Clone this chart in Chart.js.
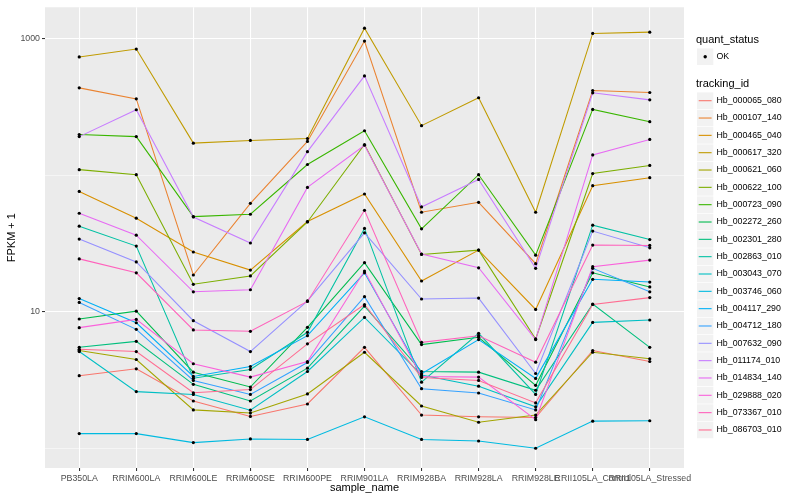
<!DOCTYPE html>
<html>
<head>
<meta charset="utf-8">
<script src="https://cdn.jsdelivr.net/npm/chart.js@4.4.1/dist/chart.umd.min.js"></script>
<style>
  html, body { margin: 0; padding: 0; background: #ffffff; }
  #wrap { width: 800px; height: 500px; }
</style>
</head>
<body>
<div id="wrap"><canvas id="chart" width="800" height="500"></canvas></div>
<script>
// samples (x axis)
const categories = ['PB350LA', 'RRIM600LA', 'RRIM600LE', 'RRIM600SE', 'RRIM600PE', 'RRIM901LA',
    'RRIM928BA', 'RRIM928LA', 'RRIM928LE', 'RRII105LA_Control', 'RRII105LA_Stressed'];

// FPKM + 1, one array per tracking_id
const hb_000065_080 = [3.40, 3.82, 2.22, 1.71, 2.11, 5.49, 1.75, 1.70, 1.68, 5.20, 4.32];
const hb_000107_140 = [437, 363, 18.6, 62.3, 177, 962, 53.6, 63.4, 22.5, 418, 404];
const hb_000465_040 = [76.2, 48.5, 27.4, 20.2, 45.8, 72.9, 16.8, 28.3, 10.4, 83.9, 96.0];
const hb_000617_320 = [736, 841, 172, 180, 186, 1196, 231, 370, 53.6, 1095, 1119];
const hb_000621_060 = [5.20, 4.47, 1.91, 1.81, 2.50, 5.05, 2.04, 1.55, 1.75, 5.05, 4.52];
const hb_000622_100 = [110, 101, 15.9, 18.3, 45.5, 168, 26.3, 28.3, 6.32, 103, 118];
const hb_000723_090 = [199, 192, 49.8, 51.8, 120, 212, 40.5, 101, 26.0, 304, 247];
const hb_002272_260 = [8.85, 10.1, 3.61, 2.81, 7.69, 22.9, 5.75, 6.50, 2.89, 19.3, 15.2];
const hb_002301_280 = [5.49, 6.07, 2.94, 2.22, 3.86, 11.0, 3.65, 3.61, 2.66, 11.4, 5.49];
const hb_002863_010 = [42.4, 30.3, 3.26, 3.78, 7.07, 40.8, 3.05, 6.95, 2.48, 43.1, 33.8];
const hb_003043_070 = [5.11, 2.60, 2.48, 1.90, 3.65, 9.09, 3.44, 2.85, 2.01, 8.36, 8.70];
const hb_003746_060 = [1.28, 1.28, 1.10, 1.17, 1.16, 1.70, 1.16, 1.13, 1.00, 1.58, 1.59];
const hb_004117_290 = [12.5, 8.31, 3.36, 3.97, 6.68, 19.3, 3.51, 6.25, 3.25, 17.3, 16.5];
const hb_004712_180 = [11.7, 7.43, 3.14, 2.48, 4.25, 12.9, 2.73, 2.54, 1.91, 20.8, 14.0];
const hb_007632_090 = [34.1, 23.2, 8.60, 5.11, 12.0, 37.9, 12.4, 12.6, 3.53, 39.0, 29.4];
const hb_011174_010 = [192, 302, 49.5, 31.9, 149, 535, 58.6, 93.3, 20.8, 402, 357];
const hb_014834_140 = [52.7, 36.4, 14.0, 14.5, 81.5, 166, 26.5, 21.0, 6.25, 141, 183];
const hb_029888_020 = [7.65, 8.79, 4.16, 3.32, 4.32, 19.9, 3.36, 3.32, 1.62, 21.4, 23.9];
const hb_073367_010 = [24.4, 19.3, 7.36, 7.19, 11.9, 55.4, 5.97, 6.68, 4.27, 30.8, 30.6];
const hb_086703_010 = [5.31, 5.11, 2.55, 2.69, 5.82, 11.3, 3.30, 3.14, 2.15, 11.3, 12.7];

const trackingIds = ['Hb_000065_080', 'Hb_000107_140', 'Hb_000465_040', 'Hb_000617_320', 'Hb_000621_060',
    'Hb_000622_100', 'Hb_000723_090', 'Hb_002272_260', 'Hb_002301_280', 'Hb_002863_010',
    'Hb_003043_070', 'Hb_003746_060', 'Hb_004117_290', 'Hb_004712_180', 'Hb_007632_090',
    'Hb_011174_010', 'Hb_014834_140', 'Hb_029888_020', 'Hb_073367_010', 'Hb_086703_010'];

const seriesValues = [hb_000065_080, hb_000107_140, hb_000465_040, hb_000617_320, hb_000621_060,
    hb_000622_100, hb_000723_090, hb_002272_260, hb_002301_280, hb_002863_010,
    hb_003043_070, hb_003746_060, hb_004117_290, hb_004712_180, hb_007632_090,
    hb_011174_010, hb_014834_140, hb_029888_020, hb_073367_010, hb_086703_010];

// ggplot hue palette, 20 levels
const seriesColors = ['#F8766D', '#EA8331', '#D89000', '#C09B00', '#A3A500', '#7CAE00', '#39B600',
    '#00BB4E', '#00BF7D', '#00C1A3', '#00BFC4', '#00BAE0', '#00B0F6', '#35A2FF', '#9590FF',
    '#C77CFF', '#E76BF3', '#FA62DB', '#FF62BC', '#FF6C91'];

const yTicks = [1, 10, 100, 1000];
const yTickLabels = { 10: '10', 1000: '1000' };
const quantStatus = ['OK'];

const FONT = '"Liberation Sans", Arial, Helvetica, sans-serif';
const isMajorY = v => v === 10 || v === 1000;

// fond gris du panneau
const panelBg = {
    id: 'panelBg',
    beforeDraw( chart ) {
        const a = chart.chartArea
        const ctx = chart.ctx
        ctx.save()
        ctx.fillStyle = '#EBEBEB'
        ctx.fillRect( a.left, a.top, a.right - a.left, a.bottom - a.top )
        ctx.restore()
    }
}

// légende à la ggplot, à droite
const ggLegend = {
    id: 'ggLegend',
    afterDraw( chart ) {
        const ctx = chart.ctx
        const x0 = 697
        ctx.save()
        ctx.textAlign = 'left'
        ctx.textBaseline = 'middle'

        ctx.fillStyle = '#000000'
        ctx.font = '11px ' + FONT
        ctx.fillText( 'quant_status', x0 - 1, 40 )
        quantStatus.forEach( ( s, i ) => {
            const cy = 56.7 + i * 17.33
            ctx.fillStyle = '#F2F2F2'
            ctx.fillRect( x0, cy - 8.3, 16.3, 16.6 )
            ctx.fillStyle = '#000000'
            ctx.beginPath()
            ctx.arc( x0 + 8.2, cy, 1.7, 0, Math.PI * 2 )
            ctx.fill()
            ctx.font = '8.8px ' + FONT
            ctx.fillText( s, x0 + 19.5, cy )
        } )

        ctx.fillStyle = '#000000'
        ctx.font = '11px ' + FONT
        ctx.fillText( 'tracking_id', x0 - 1, 84 )
        trackingIds.forEach( ( id, i ) => {
            const cy = 100.7 + i * 17.33
            ctx.fillStyle = '#F2F2F2'
            ctx.fillRect( x0, cy - 8.3, 16.3, 16.6 )
            ctx.strokeStyle = seriesColors[ i ]
            ctx.lineWidth = 1.1
            ctx.beginPath()
            ctx.moveTo( x0 + 1.7, cy )
            ctx.lineTo( x0 + 14.6, cy )
            ctx.stroke()
            ctx.fillStyle = '#000000'
            ctx.font = '8.8px ' + FONT
            ctx.fillText( id, x0 + 19.5, cy )
        } )
        ctx.restore()
    }
}

const datasets = []
// points noirs au-dessus de toutes les courbes
const allPoints = []
seriesValues.forEach( vals => vals.forEach( ( v, i ) => allPoints.push( { x: i, y: v } ) ) )
datasets.push( {
    label: 'quant_status',
    data: allPoints,
    showLine: false,
    pointRadius: 1.6,
    pointBackgroundColor: '#000000',
    pointBorderWidth: 0,
    order: 0
} )
seriesValues.forEach( ( vals, k ) => {
    datasets.push( {
        label: trackingIds[ k ],
        data: vals.map( ( v, i ) => ( { x: i, y: v } ) ),
        borderColor: seriesColors[ k ],
        borderWidth: 1.07,
        pointRadius: 0,
        fill: false,
        tension: 0,
        order: 100 - k
    } )
} )

new Chart( document.getElementById( 'chart' ), {
    type: 'line',
    data: { datasets: datasets },
    options: {
        responsive: false,
        animation: false,
        events: [],
        layout: { padding: { left: 0, top: 5, right: 116, bottom: 0 } },
        plugins: { legend: { display: false }, tooltip: { enabled: false } },
        scales: {
            x: {
                type: 'linear',
                bounds: 'data',
                min: -0.6,
                max: 10.6,
                afterBuildTicks: axis => { axis.ticks = categories.map( ( c, i ) => ( { value: i } ) ) },
                afterFit: s => { s.height = 32 },
                ticks: {
                    callback: v => categories[ v ],
                    autoSkip: false,
                    maxRotation: 0,
                    minRotation: 0,
                    padding: 2,
                    color: '#4D4D4D',
                    font: { family: FONT, size: 8.8 }
                },
                grid: { color: '#FFFFFF', lineWidth: 1.07, tickLength: 3, tickColor: '#333333', tickWidth: 1.07 },
                border: { display: false },
                title: {
                    display: true,
                    text: 'sample_name',
                    color: '#000000',
                    font: { family: FONT, size: 11 },
                    padding: { top: 0, bottom: 5 }
                }
            },
            y: {
                type: 'logarithmic',
                bounds: 'data',
                min: 0.7166,
                max: 1702,
                afterBuildTicks: axis => { axis.ticks = yTicks.map( v => ( { value: v } ) ) },
                afterFit: s => { s.width = 45 },
                ticks: {
                    callback: v => yTickLabels[ v ] || '',
                    padding: 2,
                    color: '#4D4D4D',
                    font: { family: FONT, size: 8.8 }
                },
                grid: {
                    color: '#FFFFFF',
                    lineWidth: c => isMajorY( c.tick.value ) ? 1.07 : 0.53,
                    tickLength: 3,
                    tickWidth: 1.07,
                    tickColor: c => isMajorY( c.tick.value ) ? '#333333' : 'rgba(0,0,0,0)'
                },
                border: { display: false },
                title: {
                    display: true,
                    text: 'FPKM + 1',
                    color: '#000000',
                    font: { family: FONT, size: 11 },
                    padding: { top: 5, bottom: 0 }
                }
            }
        }
    },
    plugins: [ panelBg, ggLegend ]
} );
</script>
</body>
</html>
